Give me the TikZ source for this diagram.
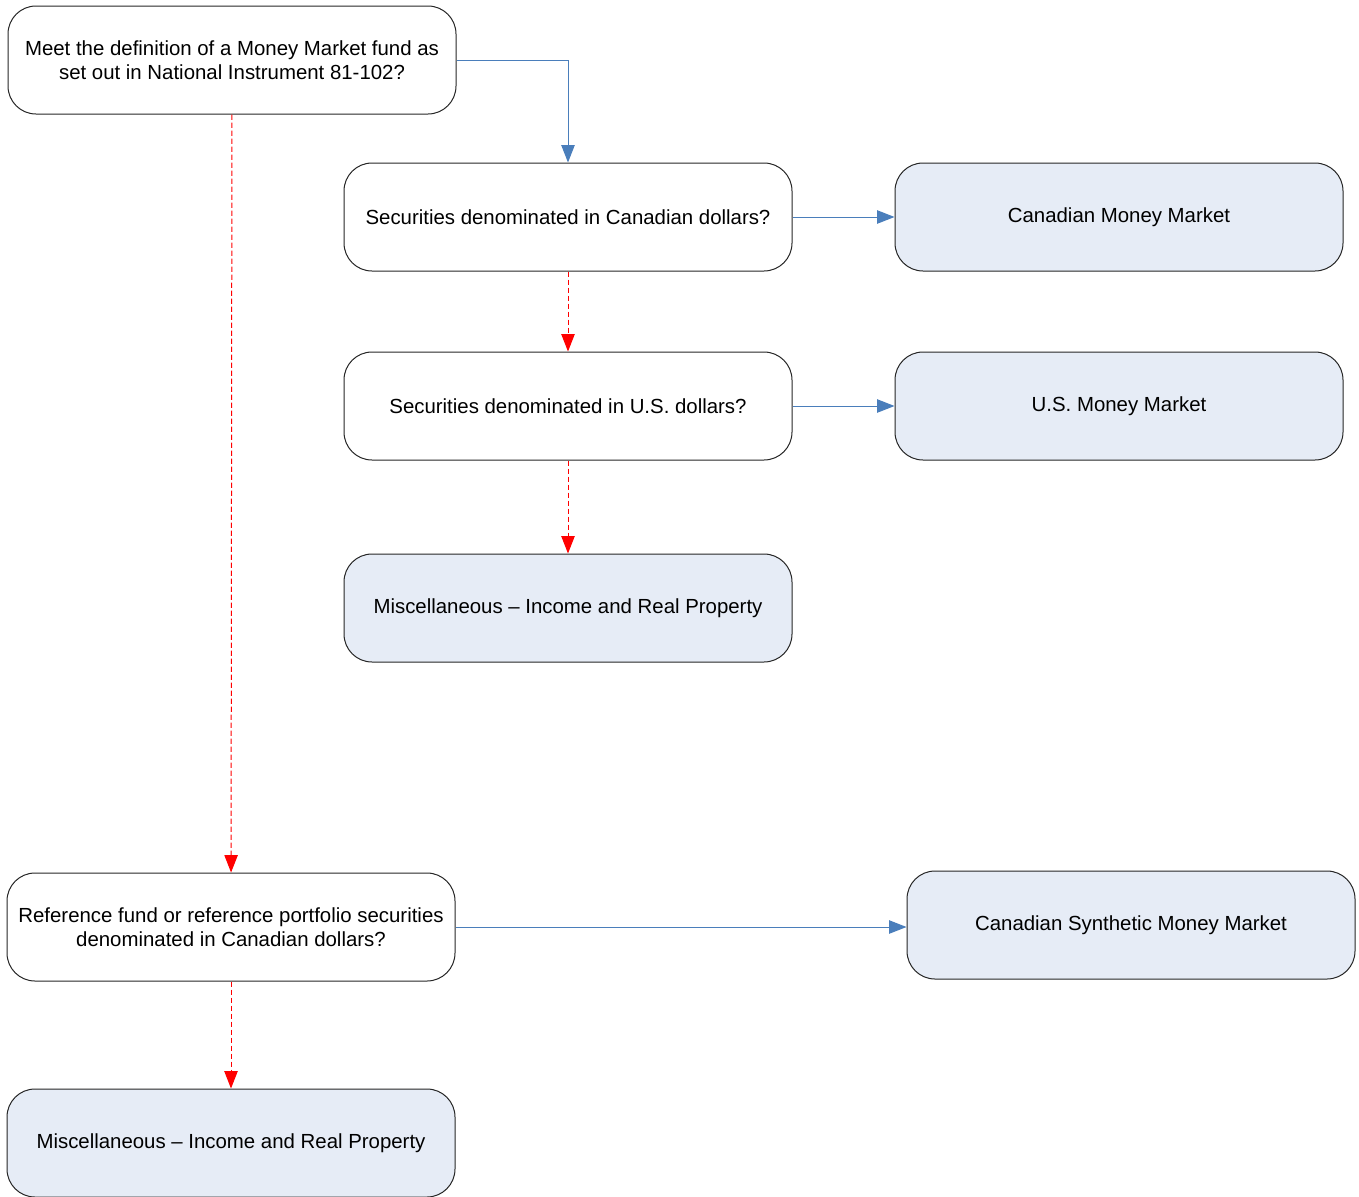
\documentclass[tikz,border=0pt]{standalone}
\usepackage{fontspec}
\setmainfont{Liberation Sans}
\usetikzlibrary{arrows.meta}

\definecolor{lineblue}{HTML}{4A7EBB}
\definecolor{boxfill}{HTML}{E6ECF6}

\begin{document}
\begin{tikzpicture}[x=0.75pt,y=-0.75pt,
  question/.style={draw=black!85,line width=0.75pt,rounded corners=21pt,minimum width=336pt,minimum height=81pt,align=center,inner sep=0pt,font=\fontsize{15.3}{18}\selectfont},
  answer/.style={question,fill=boxfill},
  yes/.style={draw=lineblue,line width=0.75pt,-{Triangle[length=13pt,width=10pt]}},
  no/.style={draw=red,line width=0.75pt,dash pattern=on 4pt off 2pt,-{Triangle[length=13pt,width=10pt,fill=red]}}]
\useasboundingbox (0,0) rectangle (1359,1196);

\node[question] (mm) at (232,60) {Meet the definition of a Money Market fund as\\set out in National Instrument 81-102?};
\node[question] (cad) at (568,217) {Securities denominated in Canadian dollars?};
\node[answer] (cadmm) at (1119,217) {Canadian Money Market};
\node[question] (usd) at (568,406) {Securities denominated in U.S. dollars?};
\node[answer] (usmm) at (1119,406) {U.S. Money Market};
\node[answer] (misca) at (568,608) {Miscellaneous -- Income and Real Property};
\node[question] (ref) at (231,927) {Reference fund or reference portfolio securities\\denominated in Canadian dollars?};
\node[answer] (synmm) at (1131,925) {Canadian Synthetic Money Market};
\node[answer] (miscb) at (231,1143) {Miscellaneous -- Income and Real Property};

\draw[yes] (mm.east) -| (cad.north);
\draw[yes] (cad) -- (cadmm);
\draw[no] (cad) -- (usd);
\draw[yes] (usd) -- (usmm);
\draw[no] (usd) -- (misca);
\draw[no] (mm) -- (ref);
\draw[yes] (ref.east) -- (ref.east -| synmm.west);
\draw[no] (ref) -- (miscb);
\end{tikzpicture}
\end{document}
